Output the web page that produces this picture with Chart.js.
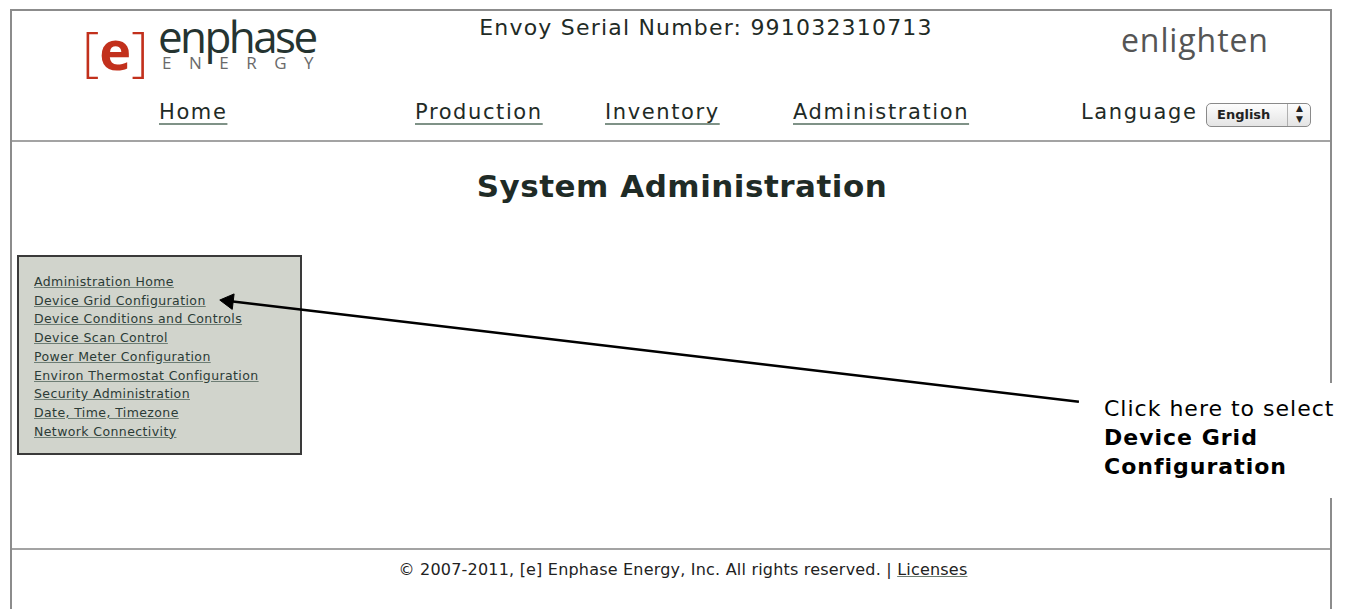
<!DOCTYPE html>
<html>
<head>
<meta charset="utf-8">
<script src="https://cdn.jsdelivr.net/npm/chart.js@4.4.0/dist/chart.umd.min.js"></script>
<style>
  html, body { margin: 0; padding: 0; background: #fff; }
  body { width: 1349px; height: 609px; position: relative; overflow: hidden; font-family: "DejaVu Sans", Verdana, sans-serif; }
  .abs { position: absolute; white-space: nowrap; }
  .frame { left: 10px; top: 9px; width: 1318px; height: 640px; border: 2px solid #8c8c8c; }
  .hline { height: 2px; background: #a3a3a3; left: 12px; width: 1318px; }
  .nav { font-size: 21px; letter-spacing: 1.6px; color: #1f2b26; text-decoration: underline; text-decoration-color: #7f9287; text-underline-offset: 4px; text-decoration-thickness: 2px; }
  .menu { left: 17px; top: 255px; width: 281px; height: 196px; background: #d1d4cc; border: 2px solid #3a3a3a; }
  .menu a { display: block; font-size: 12.5px; letter-spacing: 0.4px; color: #2b3b36; text-decoration: underline; text-decoration-color: #6d7d74; line-height: 18.7px; margin-left: 15px; }
  .callout { left: 1090px; top: 383px; width: 259px; height: 115px; background: #fff; }
  #arrowLayer { position: absolute; left: 0; top: 0; }
</style>
</head>
<body>
<div class="abs frame"></div>
<div class="abs hline" style="top:140px"></div>
<div class="abs hline" style="top:548px"></div>

<!-- logo -->
<div class="abs" style="left:82px; top:12px; font-family:'Open Sans',sans-serif; font-size:54px; color:#c2301c; font-weight:300;">[<span style="font-weight:700;">e</span>]</div>
<div class="abs" style="left:158px; top:6px; font-family:'Open Sans',sans-serif; font-size:44px; color:#253431; letter-spacing:-2.6px;">enphase</div>
<div class="abs" style="left:162px; top:51px; font-family:'Open Sans',sans-serif; font-size:17px; color:#6a6a6a; letter-spacing:17.5px;">ENERGY</div>

<div class="abs" style="left:0; width:1412px; text-align:center; top:15px; font-size:22px; letter-spacing:1.2px; color:#1f2b26;">Envoy Serial Number: 991032310713</div>
<div class="abs" style="left:1121px; top:18px; font-family:'Open Sans',sans-serif; font-size:32px; letter-spacing:0.9px; color:#555;">enlighten</div>

<div class="abs nav" style="left:159px; top:100px;">Home</div>
<div class="abs nav" style="left:415px; top:100px;">Production</div>
<div class="abs nav" style="left:605px; top:100px;">Inventory</div>
<div class="abs nav" style="left:793px; top:100px;">Administration</div>
<div class="abs" style="left:1081px; top:100px; font-size:21px; letter-spacing:1.6px; color:#1f2b26;">Language</div>
<div class="abs" style="left:1206px; top:103px; width:103px; height:22px; border:1px solid #8a8a8a; border-radius:5px; background:linear-gradient(#fdfdfd,#e4e4e4); font-size:13px; font-weight:bold; color:#222; line-height:22px;">
  <span style="margin-left:10px;">English</span>
  <span style="position:absolute; left:80px; top:0; width:1px; height:22px; background:#b0b0b0;"></span>
  <span style="position:absolute; left:89px; top:-1px; font-size:9px; line-height:11px;">&#9650;</span>
  <span style="position:absolute; left:89px; top:10px; font-size:9px; line-height:11px;">&#9660;</span>
</div>

<div class="abs" style="left:0; width:1364px; text-align:center; top:168px; font-size:31px; letter-spacing:0.5px; font-weight:bold; color:#1f2b26;">System Administration</div>

<div class="abs menu">
  <div style="height:16px"></div>
  <a>Administration Home</a>
  <a>Device Grid Configuration</a>
  <a>Device Conditions and Controls</a>
  <a>Device Scan Control</a>
  <a>Power Meter Configuration</a>
  <a>Environ Thermostat Configuration</a>
  <a>Security Administration</a>
  <a>Date, Time, Timezone</a>
  <a>Network Connectivity</a>
</div>

<div class="abs callout"></div>
<div class="abs" style="left:1104px; top:394px; font-size:22px; letter-spacing:1px; line-height:29px; color:#000;">Click here to select<br><b>Device Grid<br>Configuration</b></div>

<div class="abs" style="left:0; width:1366px; text-align:center; top:560px; font-size:16px; letter-spacing:0.2px; color:#222;">&copy; 2007-2011, [e] Enphase Energy, Inc. All rights reserved. | <span style="text-decoration:underline; text-decoration-color:#6d7d74;">Licenses</span></div>

<canvas id="arrowLayer" width="1349" height="609"></canvas>

<script>
// Callout arrow: tip (first point) at the menu link, tail at the callout text
const arrowX = [222, 1085];
const arrowY = [301, 405];

// Angle for the triangle head so it points from tail to tip
const dx = arrowX[0] - arrowX[1];
const dy = arrowY[0] - arrowY[1];
const headRotation = Math.atan2(dy, dx) * 180 / Math.PI + 90;

const ctx = document.getElementById('arrowLayer').getContext('2d');
new Chart(ctx, {
    type: 'scatter',
    data: {
        datasets: [{
            data: arrowX.map((x, i) => ({ x: x, y: arrowY[i] })),
            showLine: true,
            borderColor: '#000',
            borderWidth: 2.5,
            pointStyle: 'triangle',
            pointRadius: [9, 0],
            pointRotation: [headRotation, 0],
            pointBackgroundColor: '#000',
            pointBorderColor: '#000',
            pointBorderWidth: 1
        }]
    },
    options: {
        responsive: false,
        animation: false,
        events: [],
        layout: { padding: 0 },
        plugins: { legend: { display: false }, tooltip: { enabled: false } },
        scales: {
            x: { type: 'linear', min: 0, max: 1349, display: false },
            y: { type: 'linear', min: 0, max: 609, reverse: true, display: false }
        }
    }
});
</script>
</body>
</html>
